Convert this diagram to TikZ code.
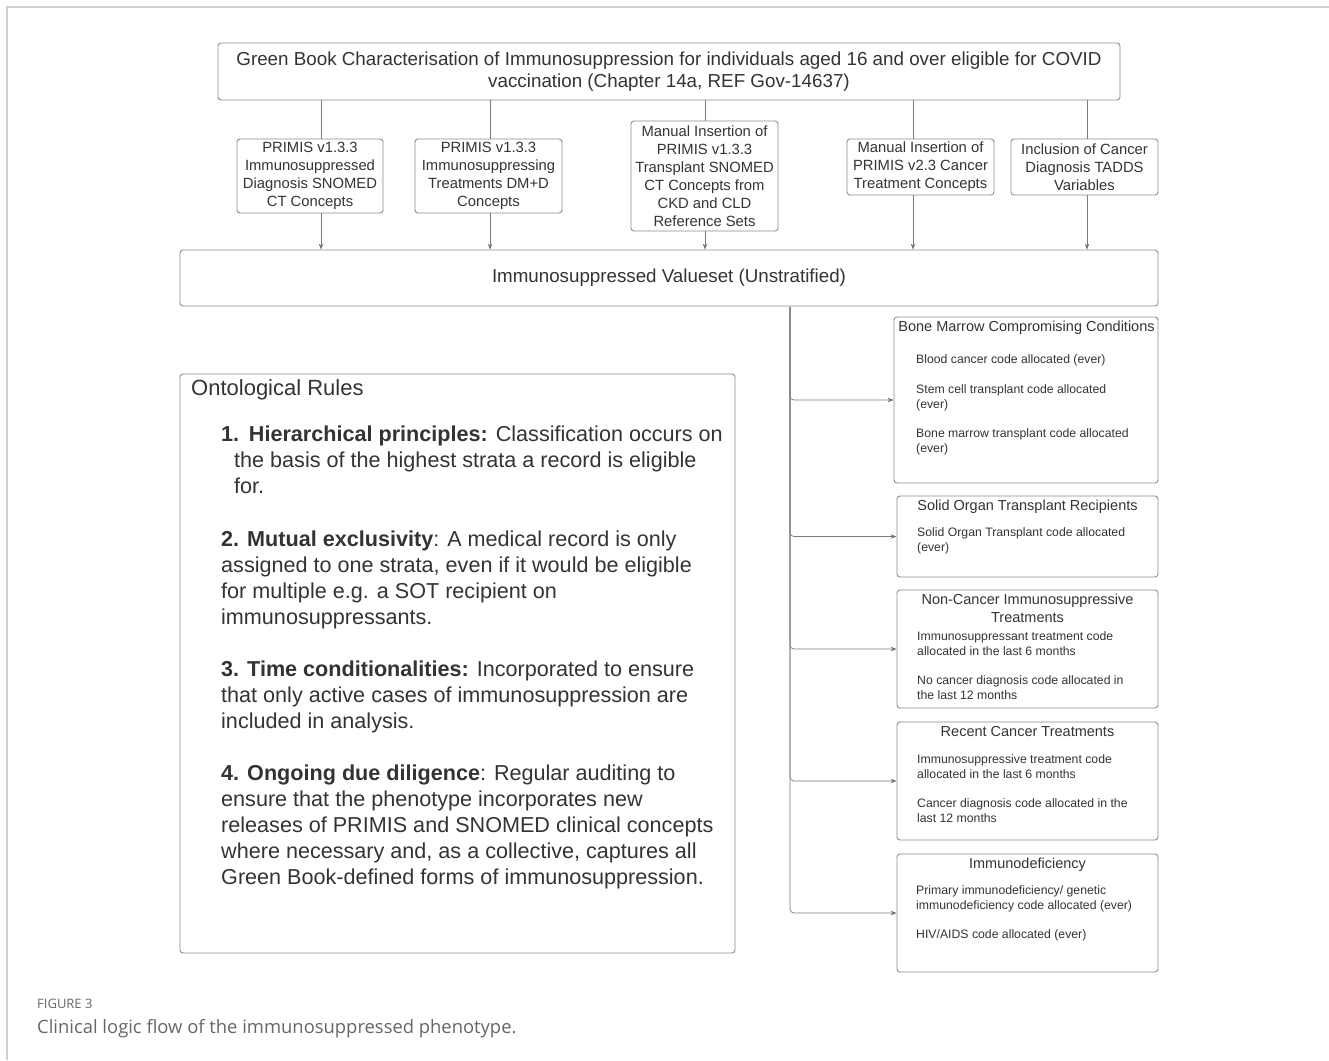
\documentclass[tikz,border=0pt]{standalone}
\usepackage{fontspec}
\setmainfont{Liberation Sans}
\newfontfamily\capfont{Open Sans}
\usetikzlibrary{calc,arrows.meta}
\definecolor{ink}{HTML}{333333}
\definecolor{edge}{HTML}{8C8C8C}
\definecolor{wire}{HTML}{7A7A7A}
\definecolor{frame}{HTML}{CFCFCF}
\definecolor{capgray}{HTML}{666666}
\tikzset{
	srcbox/.style={draw=edge, line width=0.9pt, rounded corners=3pt, align=center, inner sep=0pt, text=ink, font=\fontsize{14.8}{18}\selectfont},
	strat/.style={draw=edge, line width=0.9pt, rounded corners=3pt, inner sep=0pt},
	strattitle/.style={anchor=base, inner sep=0pt, align=center, text=ink, font=\fontsize{14.5}{18}\selectfont},
	stratitem/.style={anchor=base west, inner sep=0pt, align=left, text=ink, font=\fontsize{12.25}{15}\selectfont},
	rule/.style={anchor=base west, inner sep=0pt, align=left, text=ink, font=\fontsize{21.6}{26}\selectfont},
	feed/.style={draw=wire, line width=0.7pt},
	arr/.style={draw=wire, line width=0.7pt, -{Stealth[length=6pt,width=4.5pt,fill=ink]}},
}
\begin{document}
\begin{tikzpicture}[x=1pt, y=-1pt]
			%%%%% START %%%%%
			\useasboundingbox (0,0) rectangle (1329,1060);
			\draw[frame, line width=1.2pt] (7,1060) -- (7,7) -- (1329,7);
			
			% top box
			\node[srcbox, minimum width=902pt, minimum height=57pt, font=\fontsize{18.8}{22.5}\selectfont] (green) at (669, 71.5)
				{Green Book Characterisation of Immunosuppression for individuals aged 16 and over eligible for COVID\\vaccination (Chapter 14a, REF Gov-14637)};
			
			% sources
			\node[srcbox, minimum width=146pt, minimum height=74pt] (b1) at (310, 176)
				{PRIMIS v1.3.3\\Immunosuppressed\\Diagnosis SNOMED\\CT Concepts};
			\node[srcbox, minimum width=147pt, minimum height=74pt] (b2) at (488.5, 176)
				{PRIMIS v1.3.3\\Immunosuppressing\\Treatments DM+D\\Concepts};
			\node[srcbox, minimum width=147pt, minimum height=110pt] (b3) at (704.5, 176)
				{Manual Insertion of\\PRIMIS v1.3.3\\Transplant SNOMED\\CT Concepts from\\CKD and CLD\\Reference Sets};
			\node[srcbox, minimum width=147pt, minimum height=56pt] (b4) at (920.5, 167)
				{Manual Insertion of\\PRIMIS v2.3 Cancer\\Treatment Concepts};
			\node[srcbox, minimum width=147pt, minimum height=56pt] (b5) at (1084.5, 167)
				{Inclusion of Cancer\\Diagnosis TADDS\\Variables};
			
			% valueset
			\node[srcbox, minimum width=978pt, minimum height=56pt, font=\fontsize{18.75}{21}\selectfont] (value) at (669, 278)
				{Immunosuppressed Valueset (Unstratified)};
			
			\foreach \b/\dx in {b1/11, b2/1.5, b3/0.5, b4/-7.5, b5/2.5}{
				\draw[feed] ([xshift=\dx pt]\b.north |- green.south) -- ([xshift=\dx pt]\b.north);
				\draw[arr] ([xshift=\dx pt]\b.south) -- ([xshift=\dx pt]\b.south |- value.north);
			}
			
			% ontological rules (base = last line)
			\node[strat, minimum width=555pt, minimum height=579pt] (rules) at (457.5, 663.5) {};
			\node[anchor=base west, inner sep=0pt, text=ink, font=\fontsize{22}{26}\selectfont] (rtitle) at (191, 395) {Ontological Rules};
			\node[rule] (r1) at (221, 493)
				{\textbf{1.\hspace{0.45em}Hierarchical principles:} Classification occurs on\\
				\hspace*{13pt}the basis of the highest strata a record is eligible\\
				\hspace*{13pt}for.};
			\node[rule] (r2) at (221, 624)
				{\textbf{2. Mutual exclusivity}: A medical record is only\\
				assigned to one strata, even if it would be eligible\\
				for multiple e.g. a SOT recipient on\\
				immunosuppressants.};
			\node[rule] (r3) at (221, 728)
				{\textbf{3. Time conditionalities:} Incorporated to ensure\\
				that only active cases of immunosuppression are\\
				included in analysis.};
			\node[rule] (r4) at (221, 884)
				{\textbf{4. Ongoing due diligence}: Regular auditing to\\
				ensure that the phenotype incorporates new\\
				releases of PRIMIS and SNOMED clinical concepts\\
				where necessary and, as a collective, captures all\\
				Green Book-defined forms of immunosuppression.};
			
			% strata
			\node[strat, minimum width=264pt, minimum height=166pt] (bmc) at (1026, 400) {};
			\node[strattitle] (bmct) at (1026.5, 331) {Bone Marrow Compromising Conditions};
			\node[stratitem] (bmc1) at (916, 363.5) {Blood cancer code allocated (ever)};
			\node[stratitem] (bmc2) at (916, 408.5) {Stem cell transplant code allocated\\(ever)};
			\node[stratitem] (bmc3) at (916, 452.5) {Bone marrow transplant code allocated\\(ever)};
			
			\node[strat, minimum width=261pt, minimum height=81pt] (sot) at (1027.5, 536.5) {};
			\node[strattitle] (sott) at (1027.5, 510) {Solid Organ Transplant Recipients};
			\node[stratitem] (sot1) at (917, 551.5) {Solid Organ Transplant code allocated\\(ever)};
			
			\node[strat, minimum width=261pt, minimum height=118pt] (nct) at (1027.5, 649) {};
			\node[strattitle] (nctt) at (1027.5, 622) {Non-Cancer Immunosuppressive\\Treatments};
			\node[stratitem] (nct1) at (917, 655.5) {Immunosuppressant treatment code\\allocated in the last 6 months};
			\node[stratitem] (nct2) at (917, 699.5) {No cancer diagnosis code allocated in\\the last 12 months};
			
			\node[strat, minimum width=261pt, minimum height=118pt] (rct) at (1027.5, 781) {};
			\node[strattitle] (rctt) at (1027.5, 736) {Recent Cancer Treatments};
			\node[stratitem] (rct1) at (917, 778.5) {Immunosuppressive treatment code\\allocated in the last 6 months};
			\node[stratitem] (rct2) at (917, 822.5) {Cancer diagnosis code allocated in the\\last 12 months};
			
			\node[strat, minimum width=261pt, minimum height=118pt] (imd) at (1027.5, 913) {};
			\node[strattitle] (imdt) at (1027.5, 868) {Immunodeficiency};
			\node[stratitem] (imd1) at (916, 909.5) {Primary immunodeficiency/ genetic\\immunodeficiency code allocated (ever)};
			\node[stratitem] (imd2) at (916, 938.5) {HIV/AIDS code allocated (ever)};
			
			% trunk to strata
			\coordinate (trunk) at (790, 307);
			\foreach \s in {bmc, sot, nct, rct, imd}
				\draw[arr, rounded corners=4pt] (trunk) |- (\s.west);
			
			% caption
			\node[anchor=base west, inner sep=0pt, text=capgray, font=\capfont\fontsize{13}{15}\selectfont] (fig) at (37, 1008) {FIGURE 3};
			\node[anchor=base west, inner sep=0pt, text=capgray, font=\capfont\fontsize{18.4}{20}\selectfont] (cap) at (37, 1033) {Clinical logic flow of the immunosuppressed phenotype.};
			%%%%% END %%%%%
\end{tikzpicture}
\end{document}
